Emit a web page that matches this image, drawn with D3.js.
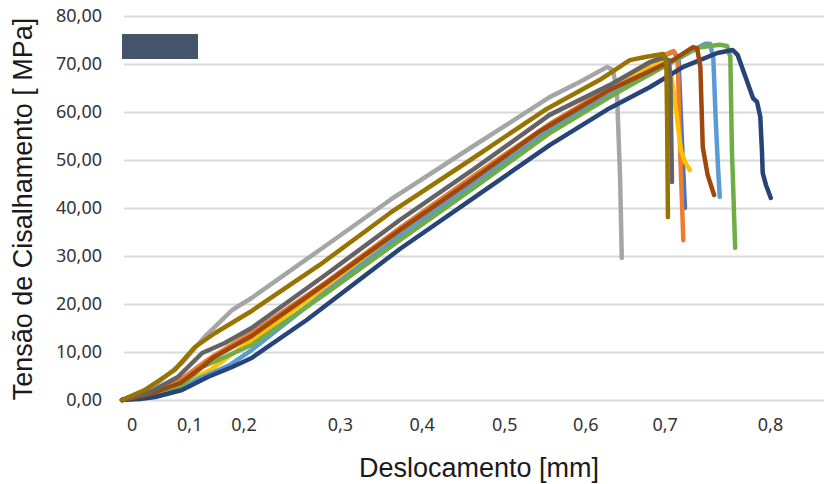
<!DOCTYPE html>
<html>
<head>
<meta charset="utf-8">
<script src="https://cdn.jsdelivr.net/npm/d3@7"></script>
<style>
  html, body { margin: 0; padding: 0; background: #ffffff; }
  svg { display: block; }
</style>
</head>
<body>
<svg id="chart" width="824" height="484"></svg>
<script>
// ---------------- DATA ----------------
const yTicks = [0, 10, 20, 30, 40, 50, 60, 70, 80];
const xTickLabels = ["0", "0,1", "0,2", "0,3", "0,4", "0,5", "0,6", "0,7", "0,8"];
// positions (in mm) at which the x labels sit in the original figure
const xTickAt = [0.012, 0.083, 0.150, 0.269, 0.370, 0.472, 0.572, 0.670, 0.800];

// [displacement mm, shear stress MPa]
const sBlue = [[0,0],[0.035,1.4],[0.072,4.1],[0.102,7.8],[0.16,13.9],[0.251,24.3],[0.343,35.7],[0.436,46.8],[0.528,57.4],[0.602,64.9],[0.646,69.7],[0.67,71.8],[0.681,72.6],[0.687,71.0],[0.691,55.0],[0.695,40.0]];
const sOrange = [[0,0],[0.035,1.46],[0.072,4.17],[0.102,7.92],[0.115,9.38],[0.16,13.96],[0.251,24.4],[0.343,35.8],[0.436,46.9],[0.528,57.5],[0.602,65.0],[0.646,69.8],[0.67,71.9],[0.681,72.7],[0.686,71.25],[0.689,52.1],[0.693,33.3]];
const sGray = [[0,0],[0.022,1.46],[0.044,3.54],[0.074,7.71],[0.102,13.13],[0.136,18.75],[0.16,21.25],[0.244,31.25],[0.331,41.67],[0.43,52.5],[0.528,63.1],[0.565,66.25],[0.599,69.4],[0.606,68.75],[0.611,64.6],[0.615,45.8],[0.617,29.6]];
const sYellow = [[0,0],[0.035,1.04],[0.072,3.13],[0.109,6.25],[0.16,12.5],[0.251,23.5],[0.343,34.8],[0.436,45.8],[0.528,56.7],[0.602,64.2],[0.64,68.3],[0.664,70.4],[0.674,70.8],[0.678,67.7],[0.684,60.4],[0.69,52.1],[0.695,49.6],[0.701,47.9]];
const sLightBlue = [[0,0],[0.035,0.83],[0.072,2.08],[0.096,4.58],[0.111,5.63],[0.133,7.29],[0.16,10.4],[0.251,22.5],[0.343,34.2],[0.436,45.2],[0.528,56.25],[0.602,63.5],[0.652,67.9],[0.701,72.5],[0.72,74.2],[0.726,74.2],[0.73,71.25],[0.733,58.3],[0.736,47.9],[0.738,42.3]];
const sGreen = [[0,0],[0.035,1.04],[0.072,2.92],[0.099,6.88],[0.127,8.96],[0.16,11.46],[0.251,22.1],[0.343,33.3],[0.436,44.4],[0.528,55.6],[0.602,63.1],[0.652,67.9],[0.701,72.5],[0.714,73.5],[0.738,74.0],[0.747,73.75],[0.751,71.5],[0.753,52.1],[0.757,31.7]];
const sNavy = [[0,0],[0.022,0.21],[0.041,0.63],[0.074,2.08],[0.106,4.79],[0.136,6.88],[0.16,8.75],[0.228,16.67],[0.343,31.46],[0.436,42.3],[0.528,53.1],[0.602,60.8],[0.652,65.2],[0.693,69.4],[0.735,72.3],[0.754,72.9],[0.76,71.9],[0.771,66.7],[0.779,62.9],[0.784,62.1],[0.788,59.0],[0.79,52.1],[0.791,47.3],[0.795,44.8],[0.801,42.1]];
const sBrown = [[0,0],[0.035,1.25],[0.072,3.54],[0.102,7.29],[0.112,8.75],[0.16,13.33],[0.251,24.2],[0.343,35.4],[0.43,45.6],[0.516,56.0],[0.602,64.6],[0.68,70.8],[0.705,73.5],[0.71,73.3],[0.714,69.4],[0.717,52.7],[0.723,46.9],[0.731,42.7]];
const sDarkGray = [[0,0],[0.035,1.67],[0.069,4.79],[0.099,9.79],[0.127,11.88],[0.16,15.0],[0.251,26.04],[0.343,37.5],[0.436,48.3],[0.528,59.4],[0.602,65.6],[0.652,70.4],[0.667,71.25],[0.675,70.8],[0.677,66.7],[0.678,56.25],[0.679,45.4]];
const sOlive = [[0,0],[0.028,2.08],[0.065,6.25],[0.09,11.04],[0.115,13.96],[0.158,18.33],[0.244,28.13],[0.331,38.96],[0.43,50.0],[0.522,60.4],[0.59,66.7],[0.627,70.8],[0.646,71.46],[0.668,72.08],[0.672,70.8],[0.673,58.3],[0.674,38.1]];

const seriesList = [sBlue, sOrange, sGray, sYellow, sLightBlue, sGreen, sNavy, sBrown, sDarkGray, sOlive];
const seriesColors = ["#4472C4", "#ED7D31", "#A5A5A5", "#FFC000", "#5B9BD5", "#70AD47", "#264478", "#9E480E", "#636363", "#997300"];

// ---------------- CHART ----------------
const svg = d3.select("#chart");
svg.append("rect").attr("width", 824).attr("height", 484).attr("fill", "#ffffff");

const x = d3.scaleLinear().domain([0, 0.8]).range([122, 770]);
const y = d3.scaleLinear().domain([0, 80]).range([400, 16]);

const locale = d3.formatLocale({decimal: ",", thousands: ".", grouping: [3], currency: ["", ""]});
const fmt2 = locale.format(".2f");

// gridlines
const grid = svg.append("g").attr("transform", "translate(124,0)")
  .call(d3.axisLeft(y).tickValues(yTicks).tickSize(-700).tickFormat(""));
grid.select(".domain").remove();
grid.selectAll("line").attr("stroke", "#d9d9d9").attr("stroke-width", 2);

// y tick labels
const yAx = svg.append("g").attr("transform", "translate(102,0)")
  .call(d3.axisLeft(y).tickValues(yTicks).tickSize(0).tickPadding(0).tickFormat(d => fmt2(d)));
yAx.select(".domain").remove();
yAx.selectAll("text").attr("font-family", "'Noto Sans', sans-serif").attr("font-size", 18).attr("fill", "#333333");

// x tick labels
const xAx = svg.append("g").attr("transform", "translate(0,418)")
  .call(d3.axisBottom(x).tickValues(xTickAt).tickSize(0).tickPadding(0).tickFormat((d, i) => xTickLabels[i]));
xAx.select(".domain").remove();
xAx.selectAll("text").attr("font-family", "'Noto Sans', sans-serif").attr("font-size", 18).attr("fill", "#333333");

// series
const line = d3.line().x(d => x(d[0])).y(d => y(d[1]));
svg.append("g").selectAll("path").data(seriesList).join("path")
  .attr("d", line)
  .attr("fill", "none")
  .attr("stroke", (d, i) => seriesColors[i])
  .attr("stroke-width", 4.5)
  .attr("stroke-linejoin", "round")
  .attr("stroke-linecap", "round");

// legend swatch
svg.append("rect").attr("x", 122).attr("y", 34).attr("width", 76).attr("height", 25).attr("fill", "#44546A");

// axis titles
svg.append("text").attr("x", 479).attr("y", 477).attr("text-anchor", "middle")
  .attr("font-family", "'Liberation Sans', Arial, sans-serif").attr("font-size", 27).attr("fill", "#1a1a1a")
  .text("Deslocamento [mm]");
svg.append("text").attr("transform", "translate(32,209) rotate(-90)").attr("text-anchor", "middle")
  .attr("font-family", "'Liberation Sans', Arial, sans-serif").attr("font-size", 27).attr("fill", "#1a1a1a")
  .text("Tensão de Cisalhamento [ MPa]");
</script>
</body>
</html>
